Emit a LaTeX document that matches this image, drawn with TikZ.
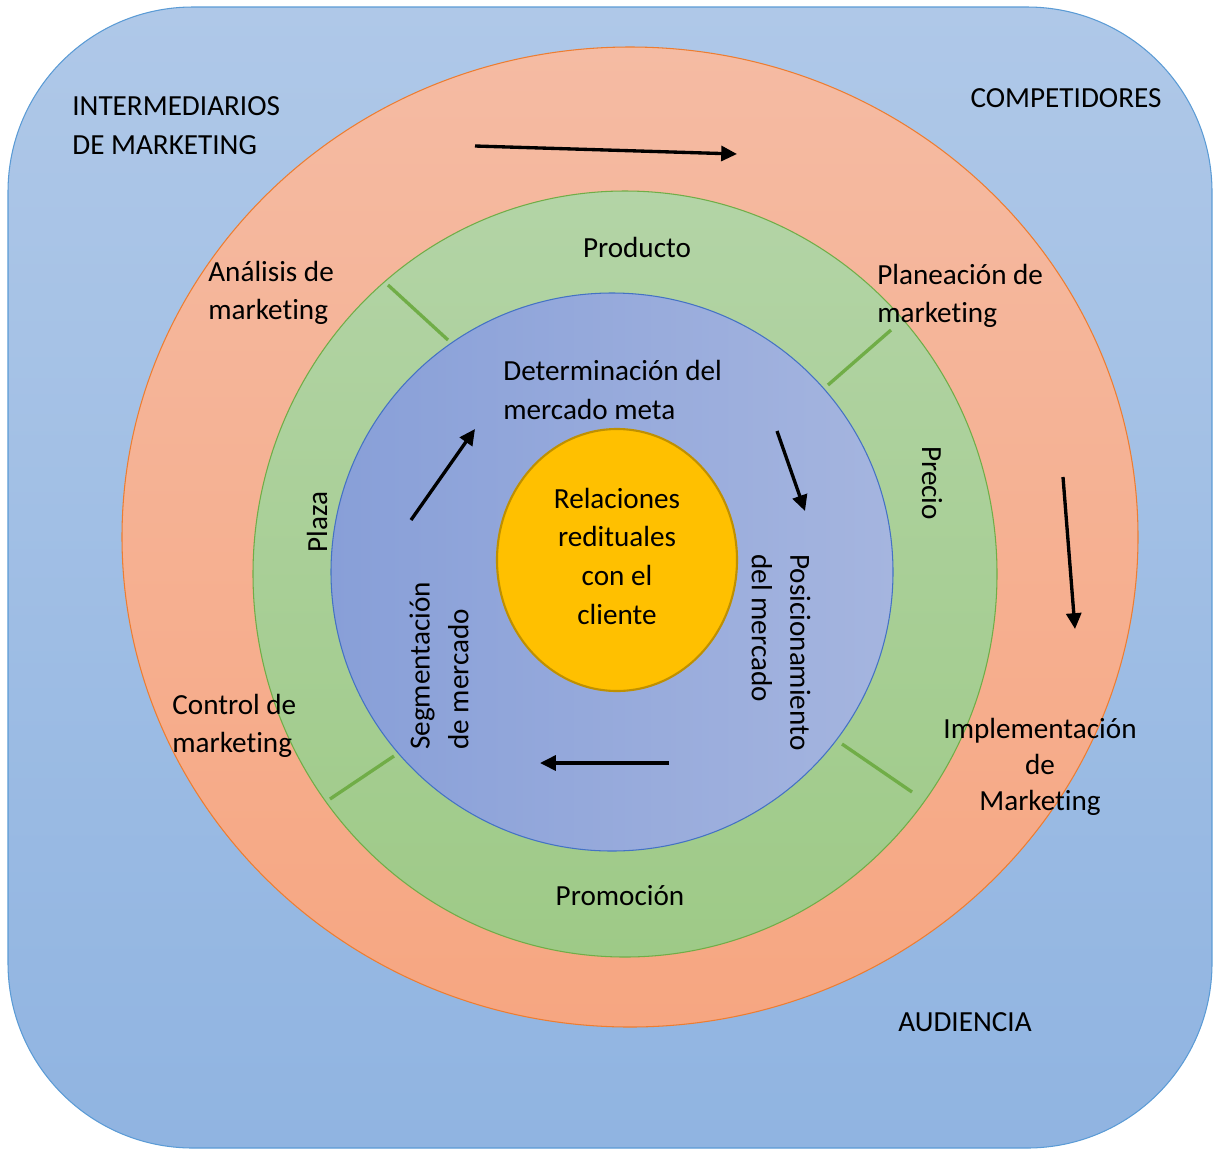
\documentclass[tikz,border=0pt]{standalone}
\usepackage{fontspec}
\setmainfont{Carlito}[Ligatures=CommonOff]
\usetikzlibrary{arrows.meta}

\definecolor{bgTop}{HTML}{AFC8E8}
\definecolor{bgBot}{HTML}{90B4E1}
\definecolor{bgLine}{HTML}{5B9BD5}
\definecolor{orTop}{HTML}{F5BBA3}
\definecolor{orBot}{HTML}{F6A681}
\definecolor{orLine}{HTML}{ED7D31}
\definecolor{grTop}{HTML}{B3D4A6}
\definecolor{grBot}{HTML}{9ECA87}
\definecolor{grLine}{HTML}{70AD47}
\definecolor{inLeft}{HTML}{889FD8}
\definecolor{inRight}{HTML}{A5B5DF}
\definecolor{inLine}{HTML}{4472C4}
\definecolor{core}{HTML}{FFC000}
\definecolor{coreLine}{HTML}{BF9000}

\tikzset{
  lbl/.style={inner sep=0pt, font=\fontsize{16.6}{22}\selectfont, text=black},
  flow/.style={line width=1.9pt, -{Triangle[length=9pt,width=8.5pt]}},
  divider/.style={grLine, line width=1.9pt},
}

\begin{document}
\begin{tikzpicture}[x=0.02cm, y=-0.02cm]
  \useasboundingbox (0,0) rectangle (1213,1150);

  % environment
  \shade[top color=bgTop, bottom color=bgBot, draw=bgLine, line width=0.6pt,
         rounded corners=3.7cm] (8,7) rectangle (1212,1148);

  % marketing process ring
  \shade[top color=orTop, bottom color=orBot, draw=orLine, line width=0.6pt]
    (630,537) ellipse [x radius=508, y radius=490];

  % marketing mix ring
  \shade[top color=grTop, bottom color=grBot, draw=grLine, line width=0.6pt]
    (625,574) ellipse [x radius=372, y radius=383];

  % strategy ring
  \shade[left color=inLeft, right color=inRight, draw=inLine, line width=0.6pt]
    (612,572) ellipse [x radius=281, y radius=279];

  % core
  \draw[fill=core, draw=coreLine, line width=1.2pt]
    (617,560) ellipse [x radius=120, y radius=131];

  % dividers of the mix ring
  \coordinate (d1a) at (388,285); \coordinate (d1b) at (448,340);
  \coordinate (d2a) at (828,385); \coordinate (d2b) at (891,330);
  \coordinate (d3a) at (330,799); \coordinate (d3b) at (394,756);
  \coordinate (d4a) at (842,744); \coordinate (d4b) at (912,792);
  \draw[divider] (d1a) -- (d1b);
  \draw[divider] (d2a) -- (d2b);
  \draw[divider] (d3a) -- (d3b);
  \draw[divider] (d4a) -- (d4b);

  % flow arrows
  \coordinate (a1s) at (475,146);  \coordinate (a1e) at (737,154);
  \coordinate (a2s) at (1063,477); \coordinate (a2e) at (1075,629);
  \coordinate (a3s) at (411,520);  \coordinate (a3e) at (475,429);
  \coordinate (a4s) at (777,431);  \coordinate (a4e) at (805,511);
  \coordinate (a5s) at (669,763);  \coordinate (a5e) at (540,763);
  \draw[flow] (a1s) -- (a1e);
  \draw[flow] (a2s) -- (a2e);
  \draw[flow] (a3s) -- (a3e);
  \draw[flow] (a4s) -- (a4e);
  \draw[flow] (a5s) -- (a5e);

  % environment labels
  \node[lbl, anchor=west, align=left] (inter) at (72,125.5) {INTERMEDIARIOS\\DE MARKETING};
  \node[lbl] (comp) at (1066,98) {COMPETIDORES};
  \node[lbl] (aud) at (965,1022) {AUDIENCIA};

  % process labels
  \node[lbl, anchor=west, align=left] (anal) at (208,293) {Análisis de\\marketing};
  \node[lbl, anchor=west, align=left] (plan) at (877,296) {Planeación de\\marketing};
  \node[lbl, anchor=west, align=left] (ctrl) at (172,726) {Control de\\marketing};
  \node[lbl, align=center, font=\fontsize{16.6}{20.4}\selectfont] (impl) at (1040,767)
    {Implementación\\de\\Marketing};

  % mix labels
  \node[lbl] (prod) at (637,247) {Producto};
  \node[lbl] (prom) at (620,896) {Promoción};
  \node[lbl, rotate=-90] (prec) at (932,483) {Precio};
  \node[lbl, rotate=90] (plaza) at (317,522) {Plaza};

  % strategy labels
  \node[lbl, anchor=west, align=left] (det) at (503,390) {Determinación del\\mercado meta};
  \node[lbl, rotate=90, anchor=west, align=left] (seg) at (439,750) {Segmentación\\de mercado};
  \node[lbl, rotate=-90, anchor=west, align=left] (pos) at (781,554) {Posicionamiento\\del mercado};

  % core label
  \node[lbl, align=center] (rel) at (617,556)
    {Relaciones\\redituales\\con el\\cliente};
\end{tikzpicture}
\end{document}
